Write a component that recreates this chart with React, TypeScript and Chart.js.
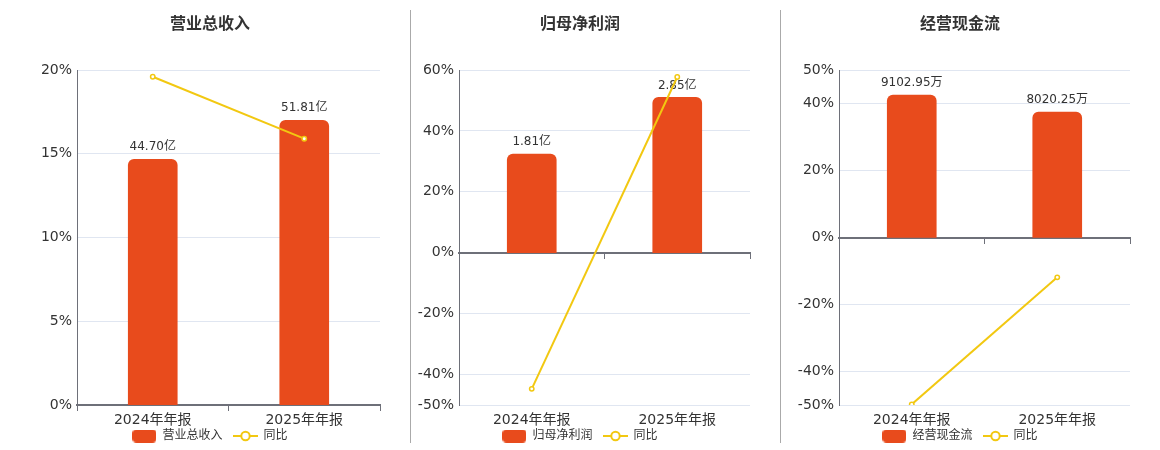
import React, { useEffect, useRef } from 'react';
import { Chart, registerables } from 'chart.js';

Chart.register(...registerables);

const FONT = '"DejaVu Sans", "Noto Sans CJK SC", sans-serif';
const BAR_COLOR = '#E84B1C';
const LINE_COLOR = '#F2C811';
const TEXT_COLOR = '#333333';

const categories = ['2024年年报', '2025年年报'];
const yoyName = '同比';

const revenueTitle = '营业总收入';
const revenueValues = [44.7, 51.81];
const revenueLabels = ['44.70亿', '51.81亿'];
const revenueYoY = [19.6, 15.9];
const revenueTicks = [0, 5, 10, 15, 20];

const profitTitle = '归母净利润';
const profitValues = [1.81, 2.85];
const profitLabels = ['1.81亿', '2.85亿'];
const profitYoY = [-44.7, 57.7];
const profitTicks = [-50, -40, -20, 0, 20, 40, 60];

const cashTitle = '经营现金流';
const cashValues = [9102.95, 8020.25];
const cashLabels = ['9102.95万', '8020.25万'];
const cashYoY = [-49.8, -11.9];
const cashTicks = [-50, -40, -20, 0, 20, 40, 50];

function makeBarImg() {
  const c = document.createElement('canvas');
  c.width = 24;
  c.height = 13;
  const ctx = c.getContext('2d')!;
  ctx.fillStyle = BAR_COLOR;
  ctx.beginPath();
  (ctx as any).roundRect(0, 0, 24, 13, 4);
  ctx.fill();
  return c;
}

function makeLineImg() {
  const c = document.createElement('canvas');
  c.width = 25;
  c.height = 12;
  const ctx = c.getContext('2d')!;
  ctx.strokeStyle = LINE_COLOR;
  ctx.lineWidth = 2;
  ctx.beginPath();
  ctx.moveTo(0, 6);
  ctx.lineTo(25, 6);
  ctx.stroke();
  ctx.beginPath();
  ctx.arc(12.5, 6, 4.2, 0, Math.PI * 2);
  ctx.fillStyle = '#ffffff';
  ctx.fill();
  ctx.stroke();
  return c;
}

type PanelProps = {
  left: number;
  width: number;
  axisWidth: number;
  title: string;
  values: number[];
  labels: string[];
  yoy: number[];
  ticks: number[];
};

function Panel({ left, width, axisWidth, title, values, labels, yoy, ticks }: PanelProps) {
  const ref = useRef<HTMLCanvasElement>(null);
  useEffect(() => {
    if (!ref.current) return;
    const pctMin = Math.min(...ticks);
    const pctMax = Math.max(...ticks);
    const barMax = Math.max(...values) / 0.85;
    const barMin = (barMax * pctMin) / pctMax;
    const barImg = makeBarImg();
    const lineImg = makeLineImg();

    const labelPlugin = {
      id: 'barValueLabels',
      afterDatasetDraw(chart: any, args: any) {
        if (args.index !== 0) return;
        const ctx = chart.ctx;
        ctx.save();
        ctx.font = `12px ${FONT}`;
        ctx.fillStyle = TEXT_COLOR;
        ctx.textAlign = 'center';
        ctx.textBaseline = 'middle';
        args.meta.data.forEach((el: any, i: number) => {
          ctx.fillText(labels[i], el.x, el.y - 12);
        });
        ctx.restore();
      },
    };

    const chart = new Chart(ref.current, {
      type: 'bar',
      data: {
        labels: categories,
        datasets: [
          {
            type: 'bar',
            label: title,
            data: values,
            yAxisID: 'y1',
            xAxisID: 'x',
            backgroundColor: BAR_COLOR,
            barThickness: 49,
            borderRadius: 6,
            borderSkipped: 'start',
            order: 2,
          } as any,
          {
            type: 'line',
            label: yoyName,
            data: yoy,
            yAxisID: 'y',
            xAxisID: 'x',
            borderColor: LINE_COLOR,
            borderWidth: 2,
            pointRadius: 2.2,
            pointBorderWidth: 1.5,
            pointBackgroundColor: '#ffffff',
            pointBorderColor: LINE_COLOR,
            tension: 0,
            order: 1,
          } as any,
        ],
      },
      options: {
        responsive: false,
        animation: false,
        layout: { padding: { left: 10, right: 10, top: 0, bottom: -2 } },
        plugins: {
          tooltip: { enabled: false },
          title: {
            display: true,
            text: title,
            color: TEXT_COLOR,
            font: { size: 16, weight: 'bold', family: FONT },
            padding: { top: 15.4, bottom: 35.4 },
          },
          legend: {
            display: true,
            position: 'bottom',
            labels: {
              usePointStyle: true,
              pointStyleWidth: 24,
              boxHeight: 12,
              padding: 11,
              color: TEXT_COLOR,
              font: { size: 12, family: FONT },
              generateLabels: () => [
                {
                  text: title,
                  pointStyle: barImg,
                  fillStyle: BAR_COLOR,
                  strokeStyle: BAR_COLOR,
                  lineWidth: 0,
                  hidden: false,
                  datasetIndex: 0,
                  fontColor: TEXT_COLOR,
                } as any,
                {
                  text: yoyName,
                  pointStyle: lineImg,
                  fillStyle: '#ffffff',
                  strokeStyle: LINE_COLOR,
                  lineWidth: 0,
                  hidden: false,
                  datasetIndex: 1,
                  fontColor: TEXT_COLOR,
                } as any,
              ],
            },
          },
        },
        scales: {
          x: {
            type: 'category',
            offset: true,
            grid: { display: false, drawTicks: false },
            border: { display: false },
            ticks: { display: false },
            afterFit: (s: any) => {
              s.height = 14;
            },
          },
          y: {
            type: 'linear',
            position: 'left',
            min: pctMin,
            max: pctMax,
            afterBuildTicks: (s: any) => {
              s.ticks = ticks.map((v) => ({ value: v }));
            },
            ticks: {
              callback: (v: any) => `${v}%`,
              color: TEXT_COLOR,
              font: { size: 14, family: FONT },
              padding: 5,
              autoSkip: false,
            },
            grid: { color: '#E0E6F1', drawTicks: false, lineWidth: 1 },
            border: { display: true, color: '#6E7079', width: 1 },
            afterFit: (s: any) => {
              s.width = axisWidth;
            },
          },
          y1: {
            type: 'linear',
            display: false,
            min: barMin,
            max: barMax,
          },
          xl: {
            type: 'category',
            axis: 'x',
            labels: categories,
            offset: true,
            position: { y: pctMin },
            grid: { display: false, drawTicks: false },
            border: { display: false },
            ticks: {
              color: TEXT_COLOR,
              font: { size: 14, family: FONT },
              padding: 6.6,
              maxRotation: 0,
              autoSkip: false,
            },
          } as any,
          x2: {
            type: 'category',
            axis: 'x',
            labels: categories,
            offset: true,
            position: { y: 0 },
            ticks: { display: false },
            grid: {
              display: true,
              drawOnChartArea: false,
              drawTicks: true,
              tickLength: 5,
              color: '#6E7079',
              lineWidth: 1,
              offset: true,
            },
            border: { display: true, color: '#6E7079', width: 2 },
          } as any,
        },
      } as any,
      plugins: [labelPlugin],
    });
    return () => chart.destroy();
  }, []);

  return (
    <canvas
      ref={ref}
      width={width}
      height={450}
      style={{ position: 'absolute', left, top: 0, width, height: 450 }}
    />
  );
}

export default function App() {
  return (
    <div
      style={{
        position: 'fixed',
        left: 0,
        top: 0,
        width: 1160,
        height: 450,
        background: '#ffffff',
        overflow: 'hidden',
      }}
    >
      <Panel
        left={30}
        width={360}
        axisWidth={37}
        title={revenueTitle}
        values={revenueValues}
        labels={revenueLabels}
        yoy={revenueYoY}
        ticks={revenueTicks}
      />
      <Panel
        left={400}
        width={360}
        axisWidth={49}
        title={profitTitle}
        values={profitValues}
        labels={profitLabels}
        yoy={profitYoY}
        ticks={profitTicks}
      />
      <Panel
        left={780}
        width={360}
        axisWidth={49}
        title={cashTitle}
        values={cashValues}
        labels={cashLabels}
        yoy={cashYoY}
        ticks={cashTicks}
      />
      <div style={{ position: 'absolute', left: 410, top: 10, width: 1, height: 433, background: '#AAAAAA' }} />
      <div style={{ position: 'absolute', left: 780, top: 10, width: 1, height: 433, background: '#AAAAAA' }} />
    </div>
  );
}
